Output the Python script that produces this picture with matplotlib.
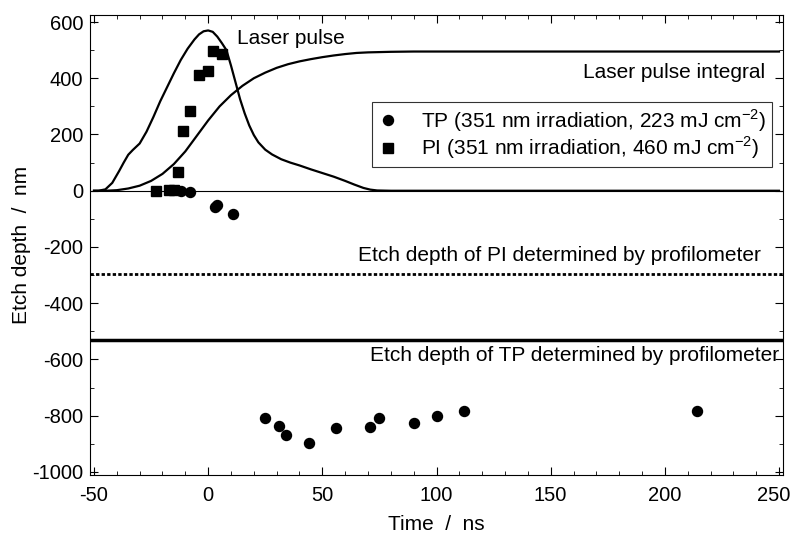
import numpy as np
import matplotlib.pyplot as plt
from matplotlib.ticker import MultipleLocator, FuncFormatter

plt.rcParams['font.family'] = ['Liberation Sans', 'DejaVu Sans']
plt.rcParams['mathtext.fontset'] = 'custom'
plt.rcParams['mathtext.rm'] = 'Liberation Sans'
plt.rcParams['axes.unicode_minus'] = False

# TP etch depth (circles)
tp_t = [-12, -8, 3, 4, 11, 25, 31, 34, 44, 56, 71, 75, 90, 100, 112, 214]
tp_d = [0, -5, -58, -50, -84, -809, -837, -869, -897, -844, -841, -809, -827, -801, -784, -783]

# PI etch depth (squares)
pi_t = [-23, -17, -15, -13, -11, -8, -4, 0, 2, 6]
pi_d = [0, 3, 3, 66, 212, 283, 411, 425, 496, 485]

# laser pulse shape (scaled)
pulse_t = [-50, -48, -45, -42, -39, -37, -35, -33, -30, -27, -24, -21, -18, -15, -12, -9,
           -6, -4, -2, 0, 2, 4, 6, 8, 10, 12, 14, 16, 18, 20, 22, 25, 28, 32, 36, 40,
           45, 50, 55, 60, 64, 68, 71, 74, 80, 100, 150, 200, 250]
pulse_y = [0, 0, 5, 28, 70, 100, 128, 145, 168, 210, 262, 318, 368, 418, 465, 505,
           538, 556, 567, 570, 565, 548, 525, 500, 445, 385, 325, 275, 232, 198, 172, 146, 129, 112, 100, 90,
           76, 63, 50, 35, 22, 10, 4, 1, 0, 0, 0, 0, 0]

# laser pulse integral (scaled)
integ_t = [-50, -45, -40, -35, -30, -25, -20, -15, -10, -5, 0, 5, 10, 15, 20, 25, 30, 35,
           40, 45, 50, 55, 60, 65, 70, 80, 90, 100, 120, 150, 200, 250]
integ_y = [0, 0, 2, 8, 18, 35, 60, 95, 140, 195, 250, 300, 340, 373, 400, 420, 437, 450,
           460, 468, 475, 481, 486, 490, 492, 494, 495, 495, 495, 495, 495, 495]

pi_profilometer = -295
tp_profilometer = -530

fs = 15
tfs = 14.5

fig = plt.figure(figsize=(7.92, 5.36), dpi=100)
ax = fig.add_axes([90 / 792, 61 / 536, 693 / 792, 460 / 536])

ax.axhline(0, color='black', lw=0.8)
ax.plot(pulse_t, pulse_y, color='black', lw=1.6)
ax.plot(integ_t, integ_y, color='black', lw=1.6)
ax.axhline(pi_profilometer, color='black', lw=2.0, ls=(0, (1.2, 0.8)))
ax.axhline(tp_profilometer, color='black', lw=2.5)

ax.plot(tp_t, tp_d, 'o', color='black', ms=7.2, ls='none',
        label='TP (351 nm irradiation, 223 mJ cm$^{\\mathrm{-2}}$)')
ax.plot(pi_t, pi_d, 's', color='black', ms=7.5, ls='none',
        label='PI (351 nm irradiation, 460 mJ cm$^{\\mathrm{-2}}$)')

ax.text(12.5, 542, 'Laser pulse', fontsize=fs, ha='left', va='center')
ax.text(244, 421, 'Laser pulse integral', fontsize=fs, ha='right', va='center')
ax.text(242, -229, 'Etch depth of PI determined by profilometer', fontsize=fs,
        ha='right', va='center')
ax.text(250, -585, 'Etch depth of TP determined by profilometer', fontsize=fs,
        ha='right', va='center')

leg = ax.legend(loc='upper right', bbox_to_anchor=(0.984, 0.811), fontsize=fs,
                frameon=True, fancybox=False, edgecolor='black', handletextpad=1.1,
                borderpad=0.25, labelspacing=0.05, handlelength=1.0, borderaxespad=0)
leg.get_frame().set_linewidth(0.8)

x_max = 250
ax.set_xlim(-51.75, 251.75)
ax.set_ylim(-1010.7, 624.9)
ax.xaxis.set_major_locator(MultipleLocator(50))
ax.xaxis.set_minor_locator(MultipleLocator(10))
ax.yaxis.set_major_locator(MultipleLocator(200))
ax.yaxis.set_minor_locator(MultipleLocator(100))
# last x label is drawn separately, slightly shifted so it stays inside the picture
ax.xaxis.set_major_formatter(FuncFormatter(lambda v, p: '' if v >= x_max else '%d' % v))
ax.tick_params(which='both', direction='in', top=True, right=True, labelsize=tfs)
ax.tick_params(which='major', length=6)
ax.tick_params(which='minor', length=3)
ax.tick_params(axis='x', pad=8)
ax.tick_params(axis='y', pad=5)
ax.annotate('%d' % x_max, xy=(x_max, 0), xycoords=('data', 'axes fraction'),
            xytext=(-4, -8), textcoords='offset points', ha='center', va='top',
            fontsize=tfs)
ax.set_xlabel('Time  /  ns', fontsize=fs, labelpad=7)
ax.set_ylabel('Etch depth  /  nm', fontsize=fs, labelpad=1)

fig.savefig('out.png', dpi=100)
